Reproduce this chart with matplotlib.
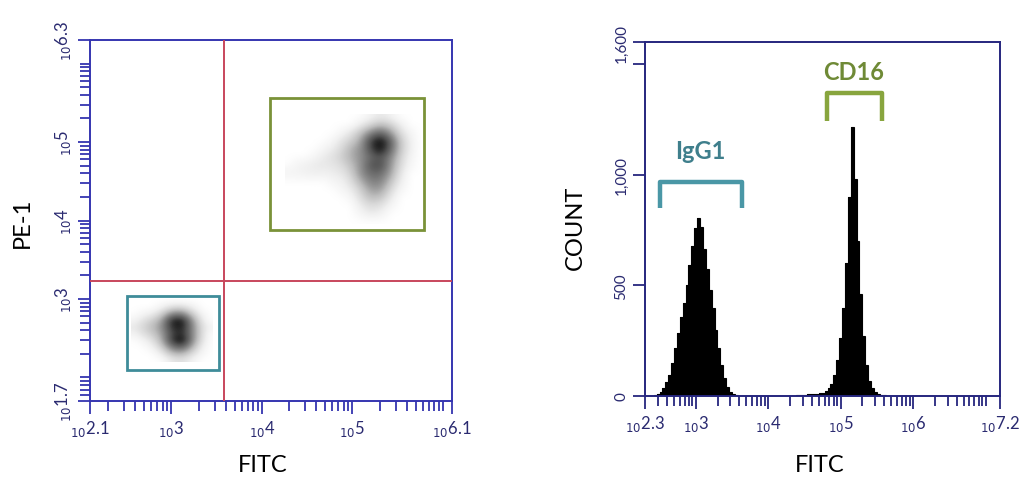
import numpy as np
import matplotlib.pyplot as plt
from matplotlib.colors import PowerNorm

plt.rcParams['font.family'] = ['Lato', 'DejaVu Sans']

# ---- left panel: PE-1 vs FITC dot plot (axes in log10 units) ----
dot_xlim = (2.1, 6.1)
dot_ylim = (1.7, 6.3)
dot_xticks = [2.1, 3, 4, 5, 6.1]
dot_yticks = [1.7, 3, 4, 5, 6.3]
quad_x = 3.58
quad_y = 3.23
igg1_gate = (2.51, 2.10, 3.525, 3.04)   # x0, y0, x1, y1
cd16_gate = (4.09, 3.88, 5.79, 5.56)

# event density (0 = empty, 1 = darkest), rows top -> bottom
igg1_extent = (2.55, 3.45, 2.20, 3.00)
igg1_density = [
    [0.00, 0.00, 0.00, 0.00, 0.00, 0.00, 0.00, 0.00, 0.00],
    [0.00, 0.00, 0.00, 0.03, 0.10, 0.12, 0.05, 0.00, 0.00],
    [0.00, 0.02, 0.05, 0.15, 0.40, 0.45, 0.20, 0.03, 0.00],
    [0.02, 0.08, 0.15, 0.30, 0.80, 0.90, 0.40, 0.08, 0.00],
    [0.05, 0.12, 0.20, 0.35, 0.75, 0.85, 0.45, 0.12, 0.02],
    [0.02, 0.08, 0.15, 0.30, 0.65, 0.80, 0.45, 0.12, 0.00],
    [0.00, 0.02, 0.08, 0.25, 0.70, 0.95, 0.45, 0.10, 0.00],
    [0.00, 0.00, 0.03, 0.15, 0.45, 0.60, 0.30, 0.05, 0.00],
    [0.00, 0.00, 0.00, 0.05, 0.20, 0.25, 0.12, 0.02, 0.00],
    [0.00, 0.00, 0.00, 0.00, 0.05, 0.08, 0.03, 0.00, 0.00],
]

cd16_extent = (4.25, 5.75, 3.95, 5.35)
cd16_density = [
    [0, 0, 0, 0, 0, 0, 0, 0, 0, 0.02, 0.05, 0.03, 0, 0, 0],
    [0, 0, 0, 0, 0, 0, 0, 0, 0.05, 0.12, 0.20, 0.15, 0.05, 0, 0],
    [0, 0, 0, 0, 0, 0, 0.02, 0.08, 0.20, 0.40, 0.55, 0.35, 0.12, 0.03, 0],
    [0, 0, 0, 0, 0, 0.02, 0.08, 0.15, 0.30, 0.70, 0.95, 0.60, 0.20, 0.05, 0],
    [0, 0, 0, 0, 0.02, 0.05, 0.12, 0.25, 0.35, 0.65, 0.90, 0.55, 0.20, 0.05, 0],
    [0, 0, 0, 0.02, 0.05, 0.08, 0.15, 0.25, 0.35, 0.50, 0.60, 0.40, 0.15, 0.03, 0],
    [0, 0.02, 0.03, 0.05, 0.05, 0.06, 0.10, 0.20, 0.35, 0.60, 0.65, 0.35, 0.12, 0.02, 0],
    [0.02, 0.02, 0.03, 0.03, 0.03, 0.04, 0.06, 0.15, 0.35, 0.50, 0.50, 0.30, 0.08, 0, 0],
    [0, 0, 0, 0, 0, 0.02, 0.03, 0.10, 0.25, 0.40, 0.40, 0.20, 0.05, 0, 0],
    [0, 0, 0, 0, 0, 0, 0.02, 0.05, 0.15, 0.30, 0.30, 0.12, 0.02, 0, 0],
    [0, 0, 0, 0, 0, 0, 0, 0.02, 0.10, 0.20, 0.18, 0.06, 0, 0, 0],
    [0, 0, 0, 0, 0, 0, 0, 0, 0.05, 0.10, 0.08, 0.02, 0, 0, 0],
    [0, 0, 0, 0, 0, 0, 0, 0, 0.02, 0.05, 0.03, 0, 0, 0, 0],
    [0, 0, 0, 0, 0, 0, 0, 0, 0, 0, 0, 0, 0, 0, 0],
]

# ---- right panel: FITC histogram ----
hist_xlim = (2.3, 7.2)
hist_ylim = (0, 1600)
hist_xticks = [2.3, 3, 4, 5, 6, 7.2]
hist_yticks = [0, 500, 1000, 1500, 1600]
hist_ylabels = ['0', '500', '1,000', '', '1,600']
bin_w = 0.04
igg1_start = 2.42
igg1_counts = [4, 10, 20, 38, 62, 95, 150, 215, 285, 355, 420, 500, 590, 680, 760,
               805, 765, 665, 575, 480, 400, 300, 215, 140, 80, 40, 18, 8, 3]
cd16_start = 4.38
cd16_counts = [4, 5, 6, 6, 7, 8, 9, 10, 12, 15, 22, 35, 55, 95, 165, 260, 400, 600,
               900, 1215, 980, 700, 460, 270, 140, 70, 35, 18, 10, 6, 3]
igg1_bracket = (2.51, 3.64, 848, 969)   # x0, x1, leg bottom, top
cd16_bracket = (4.81, 5.57, 1242, 1368)
igg1_text_y = 1108
cd16_text_y = 1466

axis_blue = '#3535b0'
hist_blue = '#26267e'
teal = '#3f8c99'
olive = '#7a9238'


def log_label(v):
    return r'$_{10}$' + ('%g' % v)


def minor_positions(lo, hi, majors):
    pos = []
    for n in range(0, 9):
        for k in range(1, 10):
            v = n + np.log10(k)
            if lo < v < hi and all(abs(v - m) > 0.01 for m in majors):
                pos.append(v)
    return pos


def style_log_axis(ax, axis, lo, hi, majors, color):
    if axis == 'x':
        ax.set_xticks(majors)
        ax.set_xticks(minor_positions(lo, hi, majors), minor=True)
        ax.set_xticklabels([log_label(v) for v in majors])
    else:
        ax.set_yticks(majors)
        ax.set_yticks(minor_positions(lo, hi, majors), minor=True)
        ax.set_yticklabels([log_label(v) for v in majors], rotation=90, va='center')
    ax.tick_params(axis=axis, which='major', length=9, width=1.3, color=color,
                   labelcolor='#2a2a70', labelsize=12, pad=3)
    ax.tick_params(axis=axis, which='minor', length=7, width=1.3, color=color)


fig = plt.figure(figsize=(10.24, 4.85), dpi=100)

# left dot plot
ax1 = fig.add_axes([0.0879, 0.1711, 0.3535, 0.7443])
for grid, ext in [(igg1_density, igg1_extent), (cd16_density, cd16_extent)]:
    ax1.imshow(np.array(grid), extent=ext, cmap='Greys',
               norm=PowerNorm(0.6, vmin=0, vmax=1),
               interpolation='bicubic', aspect='auto', zorder=1)
ax1.axvline(quad_x, color='#c8465c', lw=1.4, zorder=3)
ax1.axhline(quad_y, color='#c8465c', lw=1.4, zorder=3)
for (x0, y0, x1, y1), c in [(igg1_gate, teal), (cd16_gate, olive)]:
    ax1.add_patch(plt.Rectangle((x0, y0), x1 - x0, y1 - y0, fill=False,
                                edgecolor=c, lw=2.0, zorder=4))
ax1.set_xlim(*dot_xlim)
ax1.set_ylim(*dot_ylim)
style_log_axis(ax1, 'x', *dot_xlim, dot_xticks, axis_blue)
style_log_axis(ax1, 'y', *dot_ylim, dot_yticks, axis_blue)
for s in ax1.spines.values():
    s.set_color(axis_blue)
    s.set_linewidth(1.4)

# right histogram
ax2 = fig.add_axes([0.6299, 0.1814, 0.3467, 0.7299])
for start, counts in [(igg1_start, igg1_counts), (cd16_start, cd16_counts)]:
    edges = start + bin_w * np.arange(len(counts) + 1)
    ax2.stairs(counts, edges, fill=True, color='black', zorder=2)
    ax2.stairs(counts, edges, color='black', lw=0.8, zorder=2)
for (x0, x1, yb, yt), c, label, tc, ty in [
        (igg1_bracket, '#4a97a6', 'IgG1', '#3f7f8c', igg1_text_y),
        (cd16_bracket, '#88a53e', 'CD16', '#6f8a36', cd16_text_y)]:
    ax2.plot([x0, x0, x1, x1], [yb, yt, yt, yb], color=c, lw=3.2,
             solid_joinstyle='round', solid_capstyle='butt', zorder=3)
    ax2.text((x0 + x1) / 2 - 0.01, ty, label, color=tc, fontsize=17,
             fontweight='bold', ha='center', va='center')
ax2.set_xlim(*hist_xlim)
ax2.set_ylim(*hist_ylim)
style_log_axis(ax2, 'x', *hist_xlim, hist_xticks, hist_blue)
ax2.set_yticks(hist_yticks)
ax2.set_yticklabels(hist_ylabels, rotation=90, va='center')
ax2.tick_params(axis='y', length=9, width=1.3, color=hist_blue,
                labelcolor='#2a2a70', labelsize=11, pad=3)
for s in ax2.spines.values():
    s.set_color(hist_blue)
    s.set_linewidth(1.4)

# axis titles
fig.text(0.257, 0.041, 'FITC', fontsize=17, ha='center', va='center')
fig.text(0.801, 0.041, 'FITC', fontsize=17, ha='center', va='center')
fig.text(0.0215, 0.540, 'PE-1', fontsize=17, rotation=90, ha='center', va='center')
fig.text(0.5615, 0.530, 'COUNT', fontsize=17, rotation=90, ha='center', va='center')

fig.savefig('out.png', dpi=100)
